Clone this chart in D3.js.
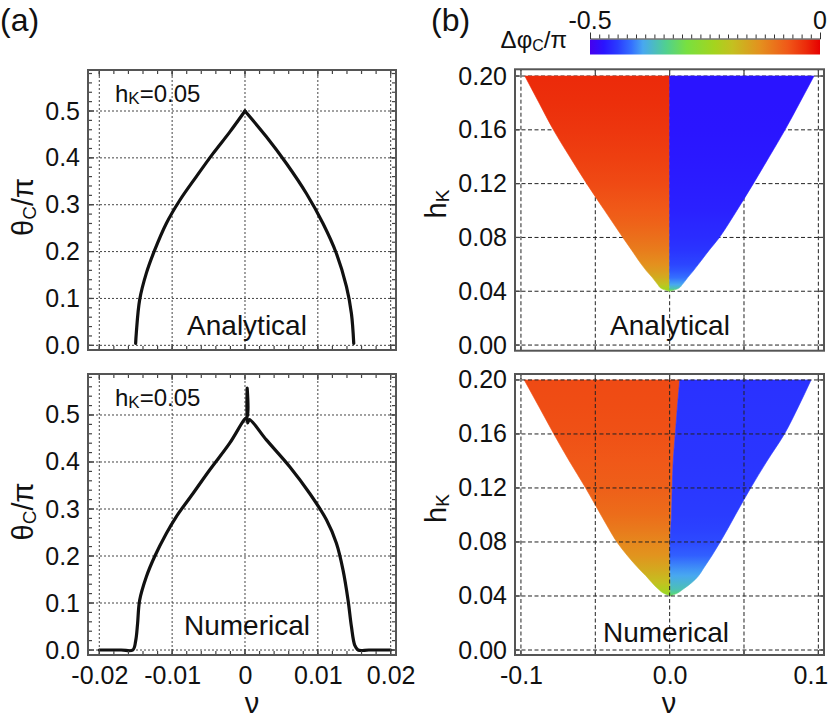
<!DOCTYPE html>
<html lang="en">
<head>
  <meta charset="UTF-8">
  <title>Critical angle and phase difference</title>
  <script src="https://d3js.org/d3.v7.min.js"></script>
  <style>
    body { margin: 0; background: #fff; }
    svg { display: block; font-family: "Liberation Sans", Arial, sans-serif; }
    .tick text { font-size: 25px; fill: #111; }
    .lbl { fill: #111; }
  </style>
</head>
<body>
  <svg width="830" height="723"></svg>

  <script>
    // ---- (a) theta_c / pi versus nu, hk = 0.05 ----
    const anaNu = [-0.01501, -0.01492, -0.01446, -0.01354, -0.0124, -0.0108, -0.00897, -0.00668, -0.0044, -0.0021, 0,
                   0.00294, 0.00569, 0.00843, 0.01071, 0.01255, 0.01393, 0.01461, 0.01493];
    const anaTheta = [0.004, 0.026, 0.097, 0.154, 0.203, 0.26, 0.309, 0.36, 0.409, 0.455, 0.5,
                      0.445, 0.388, 0.324, 0.26, 0.196, 0.125, 0.068, 0.004];

    const numNu = [-0.0200, -0.0170, -0.0154, -0.0150, -0.01475, -0.01446, -0.01354, -0.0124, -0.0108, -0.00942,
                   -0.00714, -0.00485, -0.0021, -0.0002, 0.0003, 0.0003, 0.00035, 0.0006, 0.00294, 0.00614,
                   0.00889, 0.01118, 0.01255, 0.01346, 0.01415, 0.01461, 0.01507, 0.01552, 0.0170, 0.0200];
    const numTheta = [0, 0, 0, 0.02, 0.055, 0.106, 0.156, 0.199, 0.248, 0.284,
                      0.333, 0.383, 0.44, 0.488, 0.497, 0.557, 0.483, 0.49, 0.447, 0.39,
                      0.333, 0.277, 0.227, 0.17, 0.106, 0.05, 0.01, 0, 0, 0];

    const aXTicks = [-0.02, -0.01, 0, 0.01, 0.02];
    const aXLabels = ["-0.02", "-0.01", "0", "0.01", "0.02"];
    const aYTicks = [0, 0.1, 0.2, 0.3, 0.4, 0.5];
    const aYLabels = ["0.0", "0.1", "0.2", "0.3", "0.4", "0.5"];

    // ---- (b) delta phi_c / pi map over (nu, hk) ----
    const hRows = [0.04, 0.042, 0.045, 0.05, 0.055, 0.06, 0.07, 0.08, 0.09, 0.10, 0.12, 0.14, 0.16, 0.18, 0.20];
    const anaLeft = [0, -0.0055, -0.008, -0.0115, -0.0155, -0.019, -0.0252, -0.0315, -0.0376, -0.0437, -0.0558, -0.0672, -0.0782, -0.0878, -0.0974];
    const anaRight = [0, 0.0057, 0.0085, 0.012, 0.0158, 0.0193, 0.0262, 0.0335, 0.0395, 0.0452, 0.0563, 0.067, 0.0776, 0.0874, 0.0971];
    const anaSplit = [0, 0, 0, 0, 0, 0, 0, 0, 0, 0, 0, 0, 0, 0, 0];
    const anaPhaseL = [-0.26, -0.225, -0.195, -0.165, -0.145, -0.13, -0.11, -0.095, -0.082, -0.072, -0.058, -0.048, -0.04, -0.034, -0.03];
    const anaPhaseR = [-0.29, -0.35, -0.385, -0.41, -0.425, -0.435, -0.445, -0.452, -0.456, -0.46, -0.464, -0.467, -0.469, -0.47, -0.47];

    const numLeft = [0.0005, -0.004, -0.0075, -0.012, -0.016, -0.0205, -0.0285, -0.0355, -0.041, -0.0462, -0.0565, -0.0675, -0.0779, -0.0878, -0.0978];
    const numRight = [0.0005, 0.005, 0.009, 0.015, 0.0195, 0.0225, 0.0285, 0.034, 0.0392, 0.0442, 0.0545, 0.0655, 0.0772, 0.0865, 0.0951];
    const numSplit = [0.0005, 0.0005, 0.0005, 0.0005, 0.0004, 0.0003, 0.0002, 0.0002, 0.0007, 0.0012, 0.0017, 0.0024, 0.0038, 0.0052, 0.0068];
    const numPhaseL = [-0.27, -0.24, -0.215, -0.19, -0.175, -0.16, -0.135, -0.12, -0.105, -0.092, -0.078, -0.07, -0.064, -0.06, -0.058];
    const numPhaseR = [-0.3, -0.33, -0.355, -0.37, -0.385, -0.395, -0.42, -0.432, -0.437, -0.44, -0.443, -0.445, -0.446, -0.447, -0.448];

    const bXTicks = [-0.1, -0.05, 0, 0.05, 0.1];
    const bXLabels = ["-0.1", "", "0.0", "", "0.1"];
    const bYTicks = [0, 0.04, 0.08, 0.12, 0.16, 0.20];
    const bYLabels = ["0.00", "0.04", "0.08", "0.12", "0.16", "0.20"];

    // colour map of the colour bar
    const cmapValues = [-0.5, -0.47, -0.44, -0.41, -0.385, -0.335, -0.29, -0.23, -0.19, -0.13, -0.07, -0.03, 0];
    const cmapColors = ["#4600ee", "#2a14ff", "#2a3cff", "#3470ff", "#48a8f0", "#50d090", "#78e040", "#a4d41e",
                        "#c4c020", "#e4901e", "#f05818", "#ec2a0a", "#e60000"];

    const svg = d3.select("svg");
    svg.append("rect").attr("width", 830).attr("height", 723).attr("fill", "#fff");
    const defs = svg.append("defs");
    const color = d3.scaleLinear().domain(cmapValues).range(cmapColors).interpolate(d3.interpolateRgb);

    function range(a, b, step) {
      const out = [];
      for (let v = a; v <= b + step / 2; v += step) out.push(+v.toFixed(6));
      return out;
    }

    function frame(g, x, y, o) {
      const [x0, x1] = x.range(), [y0, y1] = y.range();
      const grid = g.append("g").attr("class", "grid")
        .attr("stroke", o.gridColor).attr("stroke-width", 1).attr("stroke-dasharray", o.dash);
      grid.selectAll(".gx").data(o.xTicks).join("line")
        .attr("x1", d => x(d)).attr("x2", d => x(d)).attr("y1", y0).attr("y2", y1);
      grid.selectAll(".gy").data(o.yTicks).join("line")
        .attr("y1", d => y(d)).attr("y2", d => y(d)).attr("x1", x0).attr("x2", x1);
      return grid;
    }

    function axesAndBox(g, x, y, o) {
      const [x0, x1] = x.range(), [y0, y1] = y.range();
      const tk = g.append("g").attr("stroke", "#444").attr("stroke-width", 1.2);
      [[o.xMinor, o.minorLen], [o.xTicks, o.majorLen]].forEach(([vals, len]) => {
        tk.append("g").selectAll("line").data(vals).join("line")
          .attr("x1", d => x(d)).attr("x2", d => x(d)).attr("y1", y0).attr("y2", y0 - len);
        tk.append("g").selectAll("line").data(vals).join("line")
          .attr("x1", d => x(d)).attr("x2", d => x(d)).attr("y1", y1).attr("y2", y1 + len);
      });
      [[o.yMinor, o.minorLen], [o.yTicks, o.majorLen]].forEach(([vals, len]) => {
        tk.append("g").selectAll("line").data(vals).join("line")
          .attr("y1", d => y(d)).attr("y2", d => y(d)).attr("x1", x0).attr("x2", x0 + len);
        tk.append("g").selectAll("line").data(vals).join("line")
          .attr("y1", d => y(d)).attr("y2", d => y(d)).attr("x1", x1).attr("x2", x1 - len);
      });
      g.append("rect").attr("x", x0).attr("y", y1).attr("width", x1 - x0).attr("height", y0 - y1)
        .attr("fill", "none").attr("stroke", "#555").attr("stroke-width", 2);

      const ya = g.append("g").attr("transform", `translate(${x0},0)`)
        .call(d3.axisLeft(y).tickValues(o.yTicks).tickSize(0).tickPadding(8)
          .tickFormat((d, i) => o.yLabels[i]));
      ya.select(".domain").remove();
      if (o.showX) {
        const xa = g.append("g").attr("transform", `translate(0,${y0})`)
          .call(d3.axisBottom(x).tickValues(o.xTicks).tickSize(0).tickPadding(11)
            .tickFormat((d, i) => o.xLabels[i]));
        xa.select(".domain").remove();
        // keep the last label inside the picture
        xa.selectAll(".tick text").filter(d => x(d) > 805).attr("dx", o.lastShift || 0);
      }
      g.selectAll(".tick text").attr("fill", "#111").style("font-size", "25px");
    }

    const thetaLine = (x, y) => d3.line().x(d => x(d[0])).y(d => y(d[1])).curve(d3.curveCatmullRom.alpha(0.5));

    // ---------------- panel (a) ----------------
    const aPanels = [
      { top: 70, bottom: 350, yd: [-0.0100, 0.5875], nu: anaNu, th: anaTheta, name: "Analytical", nameY: 335, showX: false, splitAtPeak: true },
      { top: 374, bottom: 655, yd: [-0.0106, 0.5872], nu: numNu, th: numTheta, name: "Numerical", nameY: 635, showX: true, splitAtPeak: false }
    ];
    aPanels.forEach(p => {
      const g = svg.append("g");
      const x = d3.scaleLinear().domain([-0.02155, 0.02073]).range([88, 396]);
      const y = d3.scaleLinear().domain(p.yd).range([p.bottom, p.top]);
      const opts = {
        xTicks: aXTicks, yTicks: aYTicks, xLabels: aXLabels, yLabels: aYLabels,
        xMinor: range(-0.02, 0.02, 0.002), yMinor: range(0, 0.58, 0.02),
        minorLen: 4, majorLen: 6, gridColor: "#444", dash: "2,2", showX: p.showX
      };
      frame(g, x, y, opts);
      const pts = p.nu.map((v, i) => [v, p.th[i]]);
      // the analytical curve has a sharp cusp at its top, so draw its two branches separately
      const peak = d3.maxIndex(p.th);
      const branches = p.splitAtPeak ? [pts.slice(0, peak + 1), pts.slice(peak)] : [pts];
      g.selectAll(".curve").data(branches).join("path").attr("class", "curve")
        .attr("fill", "none").attr("stroke", "#111").attr("stroke-width", 3.2)
        .attr("stroke-linejoin", "miter").attr("stroke-linecap", "round")
        .attr("d", thetaLine(x, y));
      axesAndBox(g, x, y, opts);

      const hk = g.append("text").attr("class", "lbl").attr("x", 115).attr("y", p.top + 32).style("font-size", "24px");
      hk.append("tspan").text("h");
      hk.append("tspan").text("K").style("font-size", "17px").attr("dy", 2);
      hk.append("tspan").text("=0.05").attr("dy", -2);

      g.append("text").attr("class", "lbl").attr("x", 247).attr("y", p.nameY)
        .attr("text-anchor", "middle").style("font-size", "28px").text(p.name);

      const yl = g.append("text").attr("class", "lbl")
        .attr("transform", `translate(33,${(p.top + p.bottom) / 2 - 3}) rotate(-90)`)
        .attr("text-anchor", "middle").style("font-size", "29px");
      yl.append("tspan").text("θ");
      yl.append("tspan").text("C").style("font-size", "19px").attr("dy", 3);
      yl.append("tspan").text("/π").attr("dy", -3);
    });
    svg.append("text").attr("class", "lbl").attr("x", 252).attr("y", 713)
      .attr("text-anchor", "middle").style("font-size", "29px").text("ν");

    // ---------------- panel (b) ----------------
    const bPanels = [
      { top: 69.3, bottom: 350.7, yd: [-0.0042, 0.2050], L: anaLeft, S: anaSplit, R: anaRight,
        pL: anaPhaseL, pR: anaPhaseR, name: "Analytical", nameX: 670, nameY: 335, showX: false, gridOnTop: false },
      { top: 374, bottom: 655, yd: [-0.0037, 0.2044], L: numLeft, S: numSplit, R: numRight,
        pL: numPhaseL, pR: numPhaseR, name: "Numerical", nameX: 666, nameY: 642, showX: true, gridOnTop: true }
    ];
    bPanels.forEach((p, k) => {
      const g = svg.append("g");
      const x = d3.scaleLinear().domain([-0.1040, 0.1038]).range([515, 824]);
      const y = d3.scaleLinear().domain(p.yd).range([p.bottom, p.top]);
      const opts = {
        xTicks: bXTicks, yTicks: bYTicks, xLabels: bXLabels, yLabels: bYLabels,
        xMinor: [], yMinor: [], minorLen: 0, majorLen: 5,
        gridColor: "#222", dash: "4,2.5", showX: p.showX, lastShift: -8
      };
      const grid = frame(g, x, y, opts);

      const rows = hRows.map((h, i) => ({ h, l: p.L[i], s: p.S[i], r: p.R[i] }));
      [["L", p.pL, d => d.l, d => d.s], ["R", p.pR, d => d.s, d => d.r]].forEach(([side, phase, fx0, fx1]) => {
        const id = `grad${k}${side}`;
        const grad = defs.append("linearGradient").attr("id", id)
          .attr("gradientUnits", "userSpaceOnUse")
          .attr("x1", 0).attr("x2", 0).attr("y1", y(hRows[0])).attr("y2", y(hRows[hRows.length - 1]));
        grad.selectAll("stop").data(hRows).join("stop")
          .attr("offset", h => (h - hRows[0]) / (hRows[hRows.length - 1] - hRows[0]))
          .attr("stop-color", (h, i) => color(phase[i]));
        g.append("path").datum(rows)
          .attr("fill", `url(#${id})`)
          .attr("stroke", `url(#${id})`).attr("stroke-width", 0.6)
          .attr("d", d3.area().y(d => y(d.h)).x0(d => x(fx0(d))).x1(d => x(fx1(d))).curve(d3.curveMonotoneY));
      });
      if (p.gridOnTop) g.node().appendChild(grid.node());
      axesAndBox(g, x, y, opts);

      g.append("text").attr("class", "lbl").attr("x", p.nameX).attr("y", p.nameY)
        .attr("text-anchor", "middle").style("font-size", "28px").text(p.name);

      const yl = g.append("text").attr("class", "lbl")
        .attr("transform", `translate(446,${(p.top + p.bottom) / 2 - 6}) rotate(-90)`)
        .attr("text-anchor", "middle").style("font-size", "29px");
      yl.append("tspan").text("h");
      yl.append("tspan").text("K").style("font-size", "19px").attr("dy", 3);
    });
    svg.append("text").attr("class", "lbl").attr("x", 669).attr("y", 713)
      .attr("text-anchor", "middle").style("font-size", "29px").text("ν");

    // colour bar
    const cb = d3.scaleLinear().domain([-0.5, 0]).range([590, 820]);
    const cbGrad = defs.append("linearGradient").attr("id", "cbar");
    cbGrad.selectAll("stop").data(cmapValues).join("stop")
      .attr("offset", v => (v + 0.5) / 0.5).attr("stop-color", (v, i) => cmapColors[i]);
    svg.append("rect").attr("x", cb(-0.5)).attr("y", 39.5).attr("width", cb(0) - cb(-0.5)).attr("height", 15)
      .attr("fill", "url(#cbar)");
    const cbAxis = svg.append("g").attr("transform", "translate(0,38.5)")
      .call(d3.axisTop(cb).tickValues(range(-0.5, 0, 0.02)).tickSize(4).tickSizeOuter(6).tickFormat(""));
    cbAxis.selectAll("line, path").attr("stroke", "#333");
    svg.append("text").attr("class", "lbl").attr("x", cb(-0.5)).attr("y", 29)
      .attr("text-anchor", "middle").style("font-size", "25px").text("-0.5");
    svg.append("text").attr("class", "lbl").attr("x", cb(0)).attr("y", 29)
      .attr("text-anchor", "middle").style("font-size", "25px").text("0");
    const cl = svg.append("text").attr("class", "lbl").attr("x", 567).attr("y", 48)
      .attr("text-anchor", "end").style("font-size", "24px");
    cl.append("tspan").text("Δφ");
    cl.append("tspan").text("C").style("font-size", "16px").attr("dy", 3);
    cl.append("tspan").text("/π").attr("dy", -3);

    // panel letters
    svg.append("text").attr("class", "lbl").attr("x", 0).attr("y", 31).style("font-size", "32px").text("(a)");
    svg.append("text").attr("class", "lbl").attr("x", 431).attr("y", 31).style("font-size", "32px").text("(b)");
  </script>
</body>
</html>
